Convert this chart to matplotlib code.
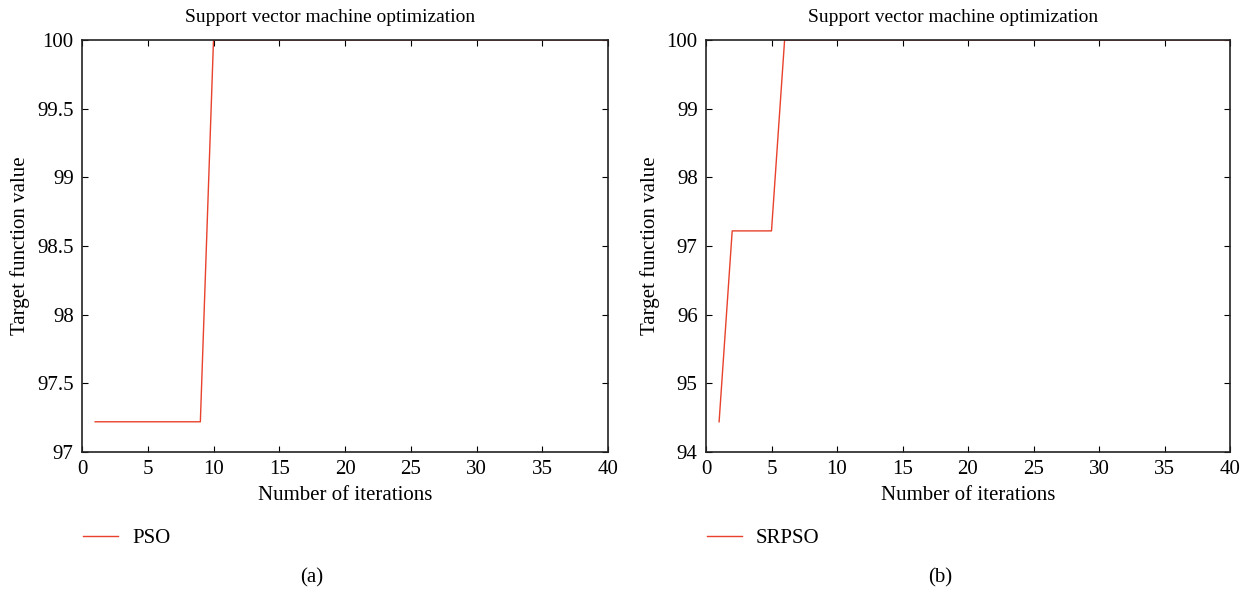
import matplotlib
matplotlib.use("Agg")
import matplotlib.pyplot as plt

plt.rcParams["font.family"] = ["Liberation Serif", "DejaVu Serif"]

iterations = list(range(1, 41))
pso_values = [97.22] * 9 + [100.0] * 31
srpso_values = [94.44] + [97.22] * 4 + [100.0] * 35

line_color = "#e8412c"

panels = [
    {"y": pso_values, "label": "PSO", "ylim": (97, 100), "yticks": [97, 97.5, 98, 98.5, 99, 99.5, 100],
     "ylabels": ["97", "97.5", "98", "98.5", "99", "99.5", "100"], "tag": "(a)"},
    {"y": srpso_values, "label": "SRPSO", "ylim": (94, 100), "yticks": [94, 95, 96, 97, 98, 99, 100],
     "ylabels": ["94", "95", "96", "97", "98", "99", "100"], "tag": "(b)"},
]

fig = plt.figure(figsize=(12.5, 5.9), dpi=100)
lefts = [0.0656, 0.5648]
widths = [0.4208, 0.4192]
tag_x = [0.2496, 0.752]

for i, p in enumerate(panels):
    ax = fig.add_axes([lefts[i], 0.2339, widths[i], 0.6983])
    line, = ax.plot(iterations, p["y"], color=line_color, linewidth=1.0, label=p["label"])
    ax.set_xlim(0, 40)
    ax.set_ylim(*p["ylim"])
    ax.set_xticks(range(0, 41, 5))
    ax.set_yticks(p["yticks"])
    ax.set_yticklabels(p["ylabels"])
    ax.tick_params(direction="in", top=True, right=True, labelsize=15, length=4.5, width=0.8, pad=6)
    for s in ax.spines.values():
        s.set_linewidth(1.2)
        s.set_color("#222222")
    ax.set_title("Support vector machine optimization", fontsize=14, pad=13, x=0.472)
    ax.set_xlabel("Number of iterations", fontsize=15, labelpad=5)
    ax.set_ylabel("Target function value", fontsize=15, labelpad=5)
    fig.legend(handles=[line], loc="center left", bbox_to_anchor=(lefts[i] + 0.0008, 0.087),
               frameon=False, fontsize=15, handlelength=1.7, handletextpad=0.65,
               borderpad=0, borderaxespad=0)
    fig.text(tag_x[i], 0.0203, p["tag"], ha="center", va="center", fontsize=15)

fig.savefig("out.png", dpi=100, facecolor="white")
